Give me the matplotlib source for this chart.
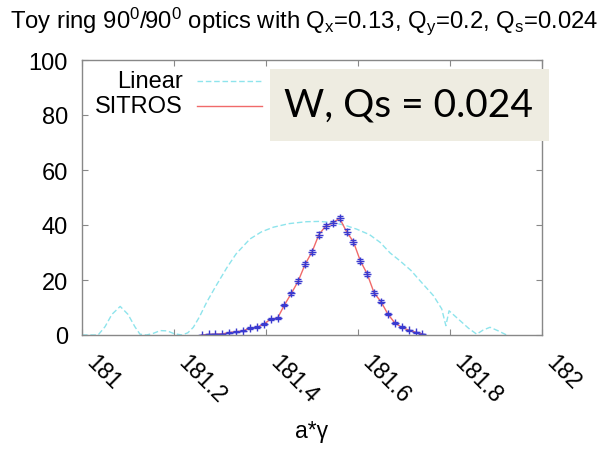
import matplotlib
matplotlib.use("Agg")
import matplotlib.pyplot as plt
from matplotlib.patches import Rectangle

plt.rcParams['font.family'] = ['Liberation Sans', 'DejaVu Sans']
plt.rcParams['mathtext.default'] = 'regular'

# linear theory curve
lin_x = [181.00, 181.035, 181.05, 181.065, 181.083, 181.10, 181.115, 181.126, 181.14,
         181.155, 181.17, 181.185, 181.20, 181.217, 181.23, 181.242, 181.255, 181.271,
         181.29, 181.315, 181.335, 181.365, 181.39, 181.416, 181.45, 181.488, 181.515,
         181.539, 181.57, 181.597, 181.625, 181.648, 181.67, 181.691, 181.715, 181.735,
         181.764, 181.782, 181.791, 181.798, 181.822, 181.84, 181.858, 181.872, 181.887,
         181.905, 181.923]
lin_y = [0.0, 0.0, 3.0, 7.5, 10.4, 7.5, 3.0, 0.3, 0.0,
         0.6, 1.6, 1.5, 0.5, 0.0, 0.8, 2.8, 6.5, 11.9,
         17.5, 24.5, 29.5, 34.9, 37.5, 39.2, 40.5, 41.2, 41.3,
         41.0, 40.0, 38.5, 36.5, 33.7, 29.8, 27.0, 23.5, 19.7,
         14.3, 9.5, 3.4, 8.8, 5.2, 2.5, 0.3, 1.8, 2.8,
         1.5, 0.0]

# SITROS tracking points
sit_x = [181.26, 181.275, 181.29, 181.305, 181.32, 181.335, 181.35, 181.365, 181.38,
         181.395, 181.41, 181.425, 181.44, 181.455, 181.47, 181.485, 181.50, 181.515,
         181.53, 181.545, 181.56, 181.575, 181.59, 181.605, 181.62, 181.635, 181.65,
         181.665, 181.68, 181.695, 181.71, 181.725, 181.74]
sit_y = [0.0, 0.2, 0.3, 0.4, 0.9, 1.2, 1.5, 2.5, 2.8,
         3.9, 5.8, 6.1, 10.9, 15.1, 19.6, 25.7, 30.2, 36.5,
         39.7, 40.7, 42.5, 37.6, 33.9, 27.0, 22.2, 15.3, 12.1,
         7.6, 4.4, 2.8, 1.8, 1.0, 0.4]
sit_err = [0.1, 0.1, 0.1, 0.1, 0.2, 0.2, 0.2, 0.3, 0.3,
           0.3, 0.4, 0.4, 0.5, 0.6, 0.6, 0.7, 0.7, 0.8,
           0.8, 0.8, 0.8, 0.8, 0.7, 0.7, 0.7, 0.6, 0.6,
           0.5, 0.4, 0.3, 0.2, 0.2, 0.1]

xticks = [181, 181.2, 181.4, 181.6, 181.8, 182]
xticklabels = ["181", "181.2", "181.4", "181.6", "181.8", "182"]
yticks = [0, 20, 40, 60, 80, 100]

fig = plt.figure(figsize=(6.08, 4.60), dpi=100)
ax = fig.add_axes([82/608, 1-336/460, 460/608, 275/460])

ax.plot(lin_x, lin_y, color='#8ee4ec', lw=1.0, dashes=(4, 2))
ax.plot(sit_x, sit_y, color='#f06a6a', lw=1.0)
ax.errorbar(sit_x, sit_y, yerr=sit_err, fmt='+', color='#3a3ad0', ms=6, mew=1.0,
            elinewidth=0.8, capsize=2.5, capthick=0.8)

ax.set_xlim(181, 182)
ax.set_ylim(0, 100)
ax.set_xticks(xticks)
ax.set_xticklabels(xticklabels, rotation=-45, ha='left', va='top')
ax.set_yticks(yticks)
ax.tick_params(direction='in', length=4, color='#888888', top=True, right=True,
               labelsize=16.5)
ax.tick_params(axis='y', pad=10, labelsize=17)
ax.tick_params(axis='x', pad=11)
for s in ax.spines.values():
    s.set_color('#888888')
    s.set_linewidth(1.0)

ax.set_xlabel("a*γ", fontsize=16.5)
ax.xaxis.set_label_coords(0.5, -0.305)

# gnuplot style key
ax.text(0.2196, 0.9236, "Linear", ha='right', va='center', fontsize=17, transform=ax.transAxes)
ax.text(0.2196, 0.8327, "SITROS", ha='right', va='center', fontsize=17, transform=ax.transAxes)
ax.plot([0.25, 0.391], [0.9236, 0.9236], color='#8ee4ec', lw=1.0, dashes=(4, 2),
        transform=ax.transAxes)
ax.plot([0.25, 0.391], [0.8327, 0.8327], color='#f06a6a', lw=1.0, transform=ax.transAxes)

fig.text(10/608, 1-28/460,
         r'Toy ring 90$^0$/90$^0$ optics with Q$_x$=0.13, Q$_y$=0.2, Q$_s$=0.024',
         fontsize=17.2, ha='left', va='baseline')

box = Rectangle((270/608, 1-142/460), 279/608, 72/460, transform=fig.transFigure,
                facecolor='#eeece1', edgecolor='none', zorder=10)
fig.patches.append(box)
fig.text(409/608, 1-106/460, "W, Qs = 0.024", family='Lato', fontsize=28,
         ha='center', va='center', zorder=11)

plt.savefig("out.png")
